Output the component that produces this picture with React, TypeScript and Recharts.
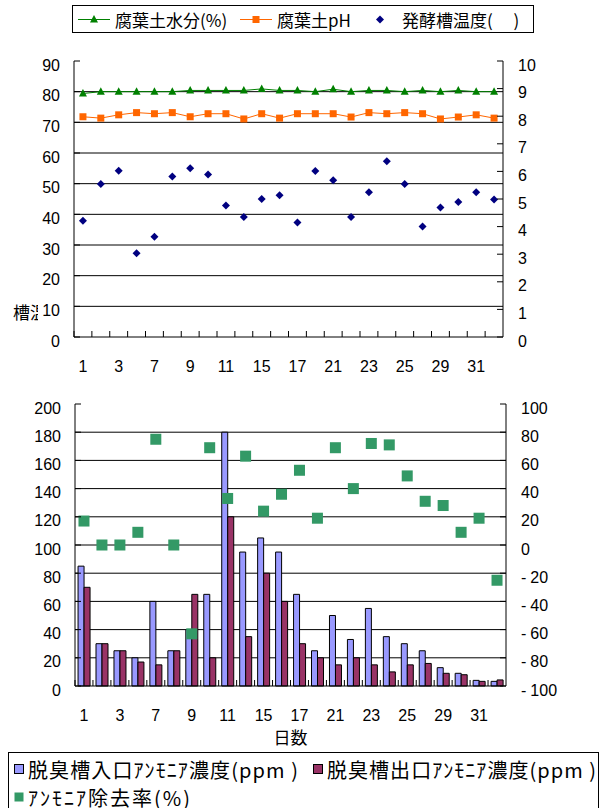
import React from 'react';
import { ComposedChart, Line, Bar, XAxis, YAxis, CartesianGrid, Legend } from 'recharts';

// Days of the month on which measurements were taken
const days = ['1', '2', '3', '4', '7', '8', '9', '10', '11', '14', '15', '16', '17', '18', '21', '22', '23', '24', '25', '28', '29', '30', '31', '1'];

// Upper chart: compost (leaf mould) condition
const soilMoisture = [79.4, 80, 80, 80, 80, 80, 80.4, 80.4, 80.4, 80.4, 80.9, 80.4, 80.4, 80, 80.8, 80, 80.4, 80.4, 80, 80.4, 80, 80.4, 80, 80];
const soilPH = [7.98, 7.93, 8.05, 8.13, 8.09, 8.13, 7.98, 8.09, 8.09, 7.9, 8.09, 7.93, 8.09, 8.09, 8.09, 7.97, 8.13, 8.09, 8.13, 8.09, 7.9, 7.97, 8.05, 7.93];
const tankTemp = [37.9, 49.9, 54.2, 27.3, 32.7, 52.3, 55.0, 53.0, 42.9, 39.1, 45.0, 46.2, 37.3, 54.1, 51.1, 39.1, 47.2, 57.3, 49.9, 36.0, 42.2, 44.0, 47.2, 44.8];

// Lower chart: ammonia in the deodorising tank
const inletNH3 = [85, 30, 25, 20, 60, 25, 40, 65, 180, 95, 105, 95, 65, 25, 50, 33, 55, 35, 30, 25, 13, 9, 4, 3.3];
const outletNH3 = [70, 30, 25, 17, 15, 25, 65, 20, 120, 35, 80, 60, 30, 20, 15, 20, 15, 10, 15, 16, 9, 8, 3.3, 4.3];
const removalRate = [17, 0, 0, 9, 75, 0, -63, 69, 33, 63, 24, 36, 53, 19, 69, 40, 72, 71, 49, 31, 28, 9, 19, -25];

// Axis ticks and grid values
const topLeftTicks = [0, 10, 20, 30, 40, 50, 60, 70, 80, 90];
const topRightTicks = [0, 1, 2, 3, 4, 5, 6, 7, 8, 9, 10];
const topGrid = [10, 20, 30, 40, 50, 60, 70, 80];
const botLeftTicks = [0, 20, 40, 60, 80, 100, 120, 140, 160, 180, 200];
const botRightTicks = [-100, -80, -60, -40, -20, 0, 20, 40, 60, 80, 100];
const botGrid = [20, 40, 60, 80, 100, 120, 140, 160, 180];

// Legend labels
const topLegend = ['腐葉土水分(%)', '腐葉土pH', '発酵槽温度(　 )'];
const botLegend = ['脱臭槽入口ｱﾝﾓﾆｱ濃度(ppm )', '脱臭槽出口ｱﾝﾓﾆｱ濃度(ppm )', 'ｱﾝﾓﾆｱ除去率(%)'];

const topData = days.map((d, i) => ({ day: d, moisture: soilMoisture[i], ph: soilPH[i], temp: tankTemp[i] }));
const botData = days.map((d, i) => ({ day: d, inlet: inletNH3[i], outlet: outletNH3[i], removal: removalRate[i] }));

const NUM_FONT = '"Liberation Sans", Arial, sans-serif';
const JP_FONT = '"Noto Sans CJK JP", "Noto Sans", sans-serif';

const GREEN = '#008000';
const ORANGE = '#FF6600';
const NAVY = '#000080';
const BLUE = '#9999FF';
const MAROON = '#993366';
const SEA = '#339966';

// Layout of the two plot areas
const W = 606;
const TOP = { h: 380, left: 74, right: 503, top: 61, bottom: 337 };
const BOT = { y0: 380, h: 428, left: 75, right: 506, top: 24, bottom: 306 };

function makeXTick(plotBottom: number, halfBand: number) {
  return (props: any) => {
    const { x, payload } = props;
    const i = props.index ?? payload?.index ?? 0;
    return (
      <g>
        <line x1={x - halfBand} x2={x - halfBand} y1={plotBottom} y2={plotBottom - 6} stroke="#000" />
        {i % 2 === 0 ? (
          <text x={x} y={plotBottom + 29} dy="0.35em" textAnchor="middle" fontSize={16} fontFamily={NUM_FONT} fill="#000">
            {payload.value}
          </text>
        ) : null}
      </g>
    );
  };
}

function makeYTick(axisX: number, side: 'left' | 'right') {
  return (props: any) => {
    const { y, payload } = props;
    const v = Number(payload.value);
    const inward = side === 'left' ? 6 : -6;
    const tx = side === 'left' ? axisX - 14 : axisX + 15;
    const label =
      v < 0 ? (
        <>
          <tspan>-</tspan>
          <tspan dx={4}>{Math.abs(v)}</tspan>
        </>
      ) : (
        String(v)
      );
    return (
      <g>
        <line x1={axisX} x2={axisX + inward} y1={y} y2={y} stroke="#000" />
        <text x={tx} y={y + 4} dy="0.35em" textAnchor={side === 'left' ? 'end' : 'start'} fontSize={16} fontFamily={NUM_FONT} fill="#000">
          {label}
        </text>
      </g>
    );
  };
}

const triangleDot = (p: any) => (
  <path key={`t${p.index}`} d={`M${p.cx},${p.cy - 4.5}L${p.cx + 4},${p.cy + 3}L${p.cx - 4},${p.cy + 3}Z`} fill={GREEN} />
);
const squareDot = (p: any) => <rect key={`s${p.index}`} x={p.cx - 3.5} y={p.cy - 3.5} width={7} height={7} fill={ORANGE} />;
const diamondDot = (p: any) => (
  <path key={`d${p.index}`} d={`M${p.cx},${p.cy - 4}L${p.cx + 4},${p.cy}L${p.cx},${p.cy + 4}L${p.cx - 4},${p.cy}Z`} fill={NAVY} />
);
const bigSquareDot = (p: any) => <rect key={`r${p.index}`} x={p.cx - 5.5} y={p.cy - 5.5} width={11} height={11} fill={SEA} />;

const TopLegendBox = () => (
  <svg width={W} height={40} style={{ display: 'block' }}>
    <rect x={72.5} y={5.5} width={461} height={27} fill="#fff" stroke="#000" />
    <line x1={78} x2={110} y1={19.5} y2={19.5} stroke={GREEN} />
    <path d="M94,15L98,22.5L90,22.5Z" fill={GREEN} />
    <text x={115} y={19.5} dominantBaseline="central" fontSize={17} fontFamily={JP_FONT} fill="#000">
      {topLegend[0]}
    </text>
    <line x1={240} x2={272} y1={19.5} y2={19.5} stroke={ORANGE} />
    <rect x={252.5} y={16} width={7} height={7} fill={ORANGE} />
    <text x={277} y={19.5} dominantBaseline="central" fontSize={17} fontFamily={JP_FONT} fill="#000">
      {topLegend[1]}
    </text>
    <path d="M380,15.5L384,19.5L380,23.5L376,19.5Z" fill={NAVY} />
    <text x={402} y={19.5} dominantBaseline="central" fontSize={17} fontFamily={JP_FONT} fill="#000">
      {topLegend[2]}
    </text>
  </svg>
);

const BotLegendBox = () => (
  <svg width={W} height={58} style={{ display: 'block' }}>
    <rect x={8.5} y={2.5} width={590} height={70} fill="#fff" stroke="#000" />
    <rect x={14.5} y={14.5} width={9} height={9} fill={BLUE} stroke="#000" />
    <text x={28} y={19} dominantBaseline="central" fontSize={20} fontFamily={JP_FONT} fill="#000" textLength={270} lengthAdjust="spacing">
      {botLegend[0]}
    </text>
    <rect x={313.5} y={14.5} width={9} height={9} fill={MAROON} stroke="#000" />
    <text x={327} y={19} dominantBaseline="central" fontSize={20} fontFamily={JP_FONT} fill="#000" textLength={269} lengthAdjust="spacing">
      {botLegend[1]}
    </text>
    <rect x={14.5} y={42.5} width={9} height={9} fill={SEA} />
    <text x={28} y={47} dominantBaseline="central" fontSize={20} fontFamily={JP_FONT} fill="#000" textLength={162} lengthAdjust="spacing">
      {botLegend[2]}
    </text>
  </svg>
);

// Axis title of the temperature series; only the part inside the left strip is visible
const tempTitle = () => (
  <g>
    <defs>
      <clipPath id="tempTitleClip">
        <rect x={13} y={290} width={25} height={45} />
      </clipPath>
    </defs>
    <text x={-21} y={311} dominantBaseline="central" fontSize={17} fontFamily={JP_FONT} fill="#000" clipPath="url(#tempTitleClip)">
      発酵槽温度(℃)
    </text>
  </g>
);

export default function App() {
  const topHalf = (TOP.right - TOP.left) / days.length / 2;
  const botHalf = (BOT.right - BOT.left) / days.length / 2;
  return (
    <div style={{ position: 'absolute', left: 0, top: 0, width: W, height: 808, background: '#fff', overflow: 'hidden', fontFamily: NUM_FONT }}>
      <div style={{ position: 'absolute', left: 0, top: 0 }}>
        <ComposedChart width={W} height={TOP.h} data={topData} margin={{ top: TOP.top, right: 0, bottom: 0, left: 0 }}>
          <CartesianGrid yAxisId="left" vertical={false} horizontalValues={topGrid} stroke="#000" />
          <XAxis
            dataKey="day"
            interval={0}
            padding={{ left: topHalf, right: topHalf }}
            tickLine={false}
            axisLine={{ stroke: '#000' }}
            height={TOP.h - TOP.bottom}
            tick={makeXTick(TOP.bottom, topHalf)}
          />
          <YAxis
            yAxisId="left"
            domain={[0, 90]}
            ticks={topLeftTicks}
            interval={0}
            width={TOP.left}
            tickLine={false}
            axisLine={{ stroke: '#000' }}
            tick={makeYTick(TOP.left, 'left')}
            label={{ content: tempTitle }}
          />
          <YAxis
            yAxisId="right"
            orientation="right"
            domain={[0, 10]}
            ticks={topRightTicks}
            interval={0}
            width={W - TOP.right}
            tickLine={false}
            axisLine={{ stroke: '#000' }}
            tick={makeYTick(TOP.right, 'right')}
          />
          <Legend layout="horizontal" verticalAlign="middle" align="center" wrapperStyle={{ left: 0, top: 0, width: W, height: 40 }} content={() => <TopLegendBox />} />
          <Line yAxisId="left" dataKey="moisture" stroke={GREEN} strokeWidth={1} dot={triangleDot} activeDot={false} isAnimationActive={false} />
          <Line yAxisId="right" dataKey="ph" stroke={ORANGE} strokeWidth={1} dot={squareDot} activeDot={false} isAnimationActive={false} />
          <Line yAxisId="left" dataKey="temp" stroke="none" dot={diamondDot} activeDot={false} isAnimationActive={false} />
        </ComposedChart>
      </div>
      <div style={{ position: 'absolute', left: 0, top: BOT.y0 }}>
        <ComposedChart width={W} height={BOT.h} data={botData} margin={{ top: BOT.top, right: 0, bottom: 0, left: 0 }} barCategoryGap="17%" barGap={0}>
          <CartesianGrid yAxisId="left" vertical={false} horizontalValues={botGrid} stroke="#000" />
          <XAxis
            dataKey="day"
            interval={0}
            tickLine={false}
            axisLine={{ stroke: '#000' }}
            height={BOT.h - BOT.bottom}
            tick={makeXTick(BOT.bottom, botHalf)}
            label={{
              content: () => (
                <text x={(BOT.left + BOT.right) / 2} y={BOT.bottom + 58} textAnchor="middle" fontSize={17} fontFamily={JP_FONT} fill="#000">
                  日数
                </text>
              ),
            }}
          />
          <YAxis
            yAxisId="left"
            domain={[0, 200]}
            ticks={botLeftTicks}
            interval={0}
            width={BOT.left}
            tickLine={false}
            axisLine={{ stroke: '#000' }}
            tick={makeYTick(BOT.left, 'left')}
          />
          <YAxis
            yAxisId="right"
            orientation="right"
            domain={[-100, 100]}
            ticks={botRightTicks}
            interval={0}
            width={W - BOT.right}
            tickLine={false}
            axisLine={{ stroke: '#000' }}
            tick={makeYTick(BOT.right, 'right')}
          />
          <Legend layout="horizontal" verticalAlign="middle" align="center" wrapperStyle={{ left: 0, top: 370, width: W, height: 58 }} content={() => <BotLegendBox />} />
          <Bar yAxisId="left" dataKey="inlet" fill={BLUE} stroke="#000" strokeWidth={1} isAnimationActive={false} />
          <Bar yAxisId="left" dataKey="outlet" fill={MAROON} stroke="#000" strokeWidth={1} isAnimationActive={false} />
          <Line yAxisId="right" dataKey="removal" stroke="none" dot={bigSquareDot} activeDot={false} isAnimationActive={false} />
        </ComposedChart>
      </div>
    </div>
  );
}
